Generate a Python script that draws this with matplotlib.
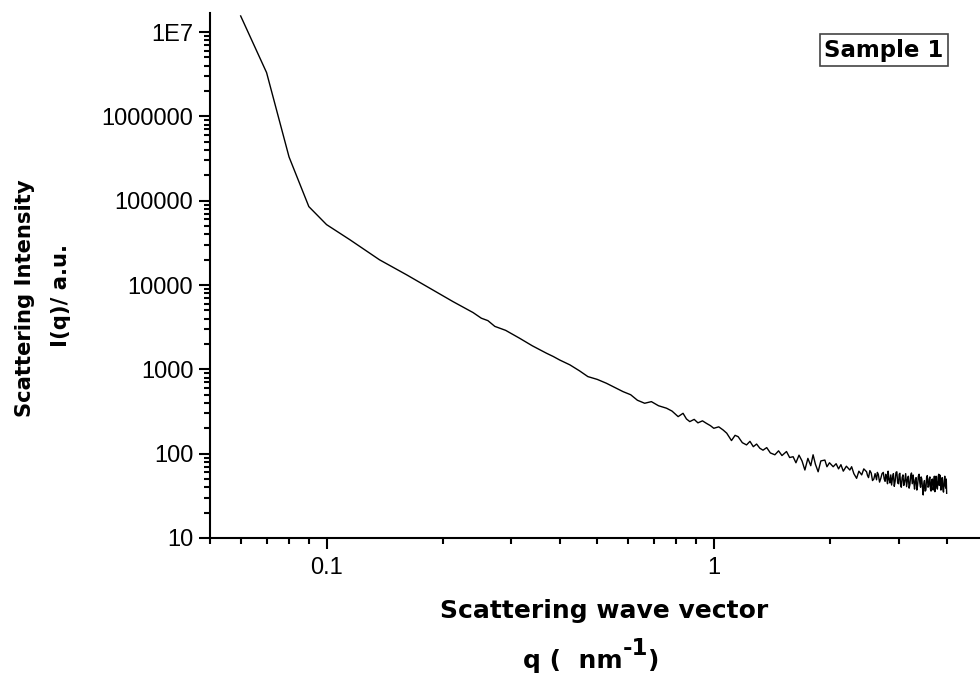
import matplotlib
matplotlib.use("Agg")
import matplotlib.pyplot as plt
from matplotlib.ticker import LogLocator, NullFormatter

# ---- data ----
q_values = [
    0.060, 0.070, 0.080, 0.090, 0.100, 0.115, 0.137, 0.161, 0.188, 0.212,
    0.239, 0.251, 0.261, 0.272, 0.290, 0.315, 0.340, 0.370, 0.385, 0.400,
    0.425, 0.450, 0.473, 0.500, 0.528, 0.555, 0.583, 0.610, 0.635, 0.663,
    0.690, 0.720, 0.755, 0.780, 0.809, 0.833, 0.850, 0.867, 0.890, 0.910,
    0.935, 0.957, 0.980, 1.000, 1.030, 1.057, 1.080, 1.111, 1.135, 1.156,
    1.185, 1.215, 1.240, 1.265, 1.290, 1.315, 1.340, 1.370, 1.400, 1.438,
    1.470, 1.500, 1.541, 1.570, 1.603, 1.630, 1.660, 1.690, 1.719, 1.750,
    1.780, 1.805, 1.830, 1.860, 1.890, 1.936, 1.960, 1.990, 2.034, 2.070,
    2.100, 2.130, 2.160, 2.200, 2.246, 2.270, 2.300, 2.338, 2.370, 2.410,
    2.440, 2.481, 2.495, 2.510, 2.530, 2.550, 2.570, 2.590, 2.610, 2.633,
    2.645, 2.660, 2.680, 2.700, 2.720, 2.740, 2.755, 2.770, 2.780, 2.795,
    2.810, 2.820, 2.835, 2.850, 2.865, 2.879, 2.895, 2.910, 2.925, 2.940,
    2.955, 2.970, 2.985, 3.000, 3.012, 3.024, 3.037, 3.050, 3.065, 3.080,
    3.095, 3.110, 3.130, 3.148, 3.165, 3.180, 3.195, 3.210, 3.225, 3.240,
    3.255, 3.273, 3.285, 3.300, 3.315, 3.330, 3.345, 3.360, 3.375, 3.390,
    3.405, 3.420, 3.432, 3.445, 3.460, 3.474, 3.487, 3.500, 3.515, 3.530,
    3.545, 3.560, 3.575, 3.590, 3.600, 3.615, 3.628, 3.640, 3.655, 3.670,
    3.685, 3.700, 3.712, 3.724, 3.737, 3.750, 3.765, 3.780, 3.795, 3.810,
    3.823, 3.837, 3.850, 3.860, 3.875, 3.890, 3.905, 3.920, 3.935, 3.950,
    3.962, 3.975, 3.985, 3.994,
]
intensity = [
    1.55e7, 3.3e6, 3.3e5, 8.5e4, 5.2e4, 3.43e4, 1.99e4, 1.32e4, 8750, 6360,
    4710, 4040, 3780, 3230, 2900, 2340, 1900, 1550, 1420, 1290,
    1130, 960, 820, 760, 684, 610, 544, 500, 430, 396,
    414, 370, 346, 320, 275, 301, 258, 240, 255, 232,
    245, 229, 215, 200, 208, 191, 175, 143, 165, 159,
    135, 127, 140, 121, 130, 116, 110, 118, 102, 97,
    108, 95, 106, 90, 92, 78, 96, 82, 64, 88,
    72, 97, 75, 61, 82, 84, 70, 78, 70, 76,
    66, 74, 62, 71, 64, 70, 58, 51, 62, 56,
    66, 61, 55, 52, 63, 59, 48, 50, 58, 49,
    60, 57, 46, 51, 58, 60, 50, 47, 57, 53,
    44, 62, 50, 45, 56, 42.5, 52, 58, 41, 47,
    60, 61, 45, 44, 57, 58.5, 43, 40, 52, 56,
    42, 46, 58, 40.6, 50, 54, 39, 43, 55, 59,
    44, 55.8, 46, 38, 49, 52, 37, 42, 54, 57,
    45, 40, 53, 50, 39, 32.4, 44, 48, 36, 37,
    52, 55, 40, 41, 50, 53, 38, 36, 49, 50,
    37, 42, 54, 35.4, 47, 54, 41, 38, 52, 57,
    42, 55.8, 44, 37, 50, 52, 38, 35, 48, 54,
    41, 39, 50, 33.9,
]
y_major_ticks = [10, 100, 1000, 10000, 100000, 1000000, 10000000]
y_tick_labels = ["10", "100", "1000", "10000", "100000", "1000000", "1E7"]
x_major_ticks = [0.1, 1]
x_tick_labels = ["0.1", "1"]

W, H = 980, 675
fig = plt.figure(figsize=(W / 100, H / 100), dpi=100)
ax_left, ax_right, ax_top, ax_bottom = 210, 980, 13, 538
ax = fig.add_axes([ax_left / W, 1 - ax_bottom / H,
                   (ax_right - ax_left) / W, (ax_bottom - ax_top) / H])

ax.plot(q_values, intensity, color="black", lw=1.0)
ax.set_xscale("log")
ax.set_yscale("log")
ax.set_xlim(0.05, 4.87)
ax.set_ylim(10, 1.68e7)

for s in ("top", "right"):
    ax.spines[s].set_visible(False)
for s in ("left", "bottom"):
    ax.spines[s].set_linewidth(1.5)

ax.set_yticks(y_major_ticks)
ax.set_yticklabels(y_tick_labels)
ax.set_xticks(x_major_ticks)
ax.set_xticklabels(x_tick_labels)
ax.yaxis.set_minor_locator(LogLocator(base=10, subs=range(2, 10), numticks=50))
ax.xaxis.set_minor_locator(LogLocator(base=10, subs=range(2, 10), numticks=50))
ax.yaxis.set_minor_formatter(NullFormatter())
ax.xaxis.set_minor_formatter(NullFormatter())

ax.tick_params(which="major", direction="out", length=8, width=1.5,
               labelsize=17, pad=4)
ax.tick_params(which="minor", direction="out", length=4, width=1.5)
ax.tick_params(axis="x", which="major", pad=6)
for lab in ax.get_xticklabels() + ax.get_yticklabels():
    lab.set_fontfamily("Liberation Sans")


def px(x, y):
    return x / W, 1 - y / H


bold = dict(family="DejaVu Sans", weight="bold", color="black")

# x-axis title, two lines
fig.text(*px(604, 618), "Scattering wave vector", ha="center", va="baseline",
         fontsize=18, **bold)
t1 = fig.text(*px(523, 668), "q (  nm", ha="left", va="baseline",
              fontsize=18, **bold)
r = fig.canvas.get_renderer()
bb1 = t1.get_window_extent(r)
t2 = fig.text(bb1.x1 / W, 1 - 655 / H, "-1", ha="left", va="baseline",
              fontsize=16.5, **bold)
bb2 = t2.get_window_extent(r)
fig.text(bb2.x1 / W, 1 - 668 / H, ")", ha="left", va="baseline",
         fontsize=18, **bold)

# y-axis title, two lines
fig.text(*px(25, 298), "Scattering Intensity", ha="center", va="center",
         rotation=90, fontsize=15.2, **bold)
fig.text(*px(61, 295), "I(q)/ a.u.", ha="center", va="center",
         rotation=90, fontsize=15.2, **bold)

fig.text(*px(884, 50), "Sample 1", ha="center", va="center", fontsize=16.5,
         bbox=dict(boxstyle="square,pad=0.2", fc="white", ec="#444444", lw=1.2),
         **bold)

fig.savefig("out.png", dpi=100)
